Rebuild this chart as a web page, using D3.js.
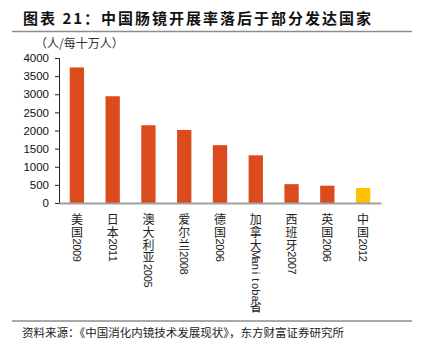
<!DOCTYPE html>
<html>
<head>
<meta charset="utf-8">
<script src="https://cdn.jsdelivr.net/npm/d3@7/dist/d3.min.js"></script>
<style>
html,body{margin:0;padding:0;background:#fff;}
svg{display:block;}
</style>
</head>
<body>
<div id="chart"></div>
<script>
const categories = ["美国2009","日本2011","澳大利亚2005","爱尔兰2008","德国2006","加拿大Manitoba省","西班牙2007","英国2006","中国2012"];
const values = [3740, 2945, 2145, 2015, 1595, 1315, 520, 478, 415];
const highlight = ["中国2012"];
const yTicks = [0,500,1000,1500,2000,2500,3000,3500,4000];
const titleText = "图表 21：中国肠镜开展率落后于部分发达国家";
const unitText = "（人/每十万人）";
const sourceText = "资料来源：《中国消化内镜技术发展现状》，东方财富证券研究所";

const W = 427, H = 355;
const cjk = "'Noto Sans CJK SC', 'Liberation Sans', sans-serif";
const latin = "'Liberation Sans', Arial, 'Noto Sans CJK SC', sans-serif";
const svg = d3.select("#chart").append("svg").attr("width", W).attr("height", H);

// title
svg.append("text").attr("x", 23).attr("y", 23.5)
  .attr("font-family", cjk).attr("font-weight", "bold").attr("font-size", 15)
  .attr("letter-spacing", 2).attr("fill", "#111").text(titleText);
svg.append("line").attr("x1", 12).attr("x2", 412).attr("y1", 31.5).attr("y2", 31.5)
  .attr("stroke", "#8c8c8c").attr("stroke-width", 1.5);

const plot = {left: 59, right: 381, top: 58, bottom: 203};
const x = d3.scaleBand().domain(categories).range([plot.left, plot.right]).paddingInner(0.6).paddingOuter(0.3);
const y = d3.scaleLinear().domain([0, 4000]).range([plot.bottom, plot.top]);

// unit label
svg.append("text").attr("x", 35).attr("y", 48)
  .attr("font-family", cjk).attr("font-size", 12).attr("fill", "#333").text(unitText);

// y axis
const yAxis = d3.axisLeft(y).tickValues(yTicks).tickFormat(d3.format("d")).tickSize(4).tickSizeOuter(4).tickPadding(6);
const gy = svg.append("g").attr("transform", `translate(${plot.left},0)`).call(yAxis);
gy.selectAll("text").attr("font-family", latin).attr("font-size", 11.5).attr("fill", "#111");
gy.selectAll("line,path").attr("stroke", "#222");

// bars
svg.append("g").selectAll("rect").data(categories).join("rect")
  .attr("x", d => x(d)).attr("width", x.bandwidth())
  .attr("y", (d,i) => y(values[i])).attr("height", (d,i) => y(0) - y(values[i]))
  .attr("fill", d => highlight.includes(d) ? "#FFC000" : "#DB4B1E");

// x axis
const xAxis = d3.axisBottom(x).tickSize(0).tickSizeOuter(0).tickFormat("");
const gx = svg.append("g").attr("transform", `translate(0,${plot.bottom})`).call(xAxis);
gx.select("path").attr("stroke", "#a0a0a0").attr("stroke-width", 2);

// measure helper
const meas = svg.append("text").attr("x", -100).attr("y", -100);
function adv(ch, fam, size){
  meas.attr("font-family", fam).attr("font-size", size).text(ch);
  return meas.node().getComputedTextLength();
}

// vertical category labels: one text per label, CJK upright, Latin sideways
const labelTop = 213;
const pitch = ch => /[0-9]/.test(ch) ? 5.9 : (/[A-Za-z]/.test(ch) ? 6.3 : 12.8);
const lg = svg.append("g");
categories.forEach(cat => {
  const cx = x(cat) + x.bandwidth()/2;
  const t = lg.append("text")
    .attr("x", cx).attr("y", labelTop)
    .attr("writing-mode", "vertical-rl")
    .style("writing-mode", "vertical-rl")
    .style("text-orientation", "mixed")
    .attr("fill", "#222");
  let pos = labelTop;
  Array.from(cat).forEach(ch => {
    const p = pitch(ch);
    const isLatin = /[A-Za-z0-9]/.test(ch);
    const fam = isLatin ? latin : cjk;
    const size = isLatin ? 11 : 12;
    const a = isLatin ? adv(ch, fam, size) : size;
    t.append("tspan").text(ch)
      .attr("x", cx)
      .attr("y", pos + (p - a)/2)
      .attr("font-family", fam).attr("font-size", size);
    pos += p;
  });
});
meas.remove();

// source
svg.append("line").attr("x1", 12).attr("x2", 412).attr("y1", 321).attr("y2", 321)
  .attr("stroke", "#8c8c8c").attr("stroke-width", 1.5);
svg.append("text").attr("x", 22).attr("y", 337)
  .attr("font-family", cjk).attr("font-size", 11.5).attr("fill", "#222").text(sourceText);
</script>
</body>
</html>
